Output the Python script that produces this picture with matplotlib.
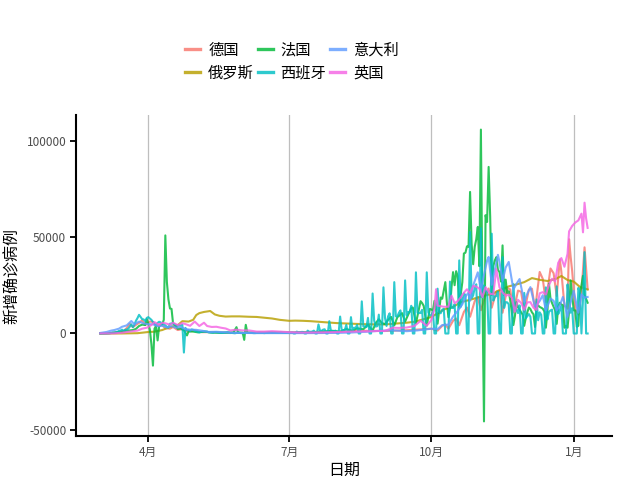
import numpy as np
import pandas as pd
import matplotlib
matplotlib.use("Agg")
import matplotlib.pyplot as plt

plt.rcParams['font.family'] = ['Noto Sans CJK SC', 'DejaVu Sans']

# ---------------- data ----------------
countries = ["德国", "俄罗斯", "法国", "西班牙", "意大利", "英国"]
colors = ["#F8766D", "#B79F00", "#00BA38", "#00BFC4", "#619CFF", "#F564E3"]

germany_dates = ["2020-03-01", "2020-03-05", "2020-03-08", "2020-03-11", "2020-03-14", "2020-03-16",
                 "2020-03-18", "2020-03-20", "2020-03-22", "2020-03-24", "2020-03-26", "2020-03-28",
                 "2020-03-30", "2020-04-02", "2020-04-04", "2020-04-06", "2020-04-09", "2020-04-12",
                 "2020-04-15", "2020-04-17", "2020-04-20", "2020-04-23", "2020-04-27", "2020-05-01",
                 "2020-05-05", "2020-05-10", "2020-05-20", "2020-06-01", "2020-06-18", "2020-07-01",
                 "2020-07-20", "2020-08-01", "2020-08-15", "2020-09-01", "2020-09-15", "2020-10-01",
                 "2020-10-05", "2020-10-08", "2020-10-10", "2020-10-12", "2020-10-15", "2020-10-17",
                 "2020-10-19", "2020-10-22", "2020-10-24", "2020-10-26", "2020-10-29", "2020-10-31",
                 "2020-11-02", "2020-11-05", "2020-11-07", "2020-11-09", "2020-11-12", "2020-11-14",
                 "2020-11-16", "2020-11-19", "2020-11-21", "2020-11-23", "2020-11-26", "2020-11-28",
                 "2020-11-30", "2020-12-03", "2020-12-05", "2020-12-07", "2020-12-10", "2020-12-12",
                 "2020-12-14", "2020-12-17", "2020-12-19", "2020-12-21", "2020-12-23", "2020-12-24",
                 "2020-12-26", "2020-12-28", "2020-12-29", "2020-12-30", "2020-12-31", "2021-01-02",
                 "2021-01-04", "2021-01-06", "2021-01-08", "2021-01-10"]
germany_vals = [50, 100, 250, 600, 900, 1200,
                2800, 5000, 3300, 4500, 5500, 6900,
                4400, 6200, 6000, 3700, 5000, 2800,
                2500, 3400, 1800, 2300, 1000, 1600,
                700, 700, 500, 300, 600, 400,
                300, 700, 1400, 1300, 1700, 2500,
                1500, 4000, 4700, 2500, 6600, 7800,
                4300, 11200, 13500, 8700, 16800, 19000,
                12100, 20000, 23400, 13400, 21900, 22500,
                10800, 23600, 22900, 10900, 22300, 21700,
                11200, 22800, 23300, 12300, 32000, 28400,
                16300, 33800, 31300, 19500, 38500, 32200,
                14500, 12900, 49000, 40000, 32500, 12700,
                9800, 21000, 44800, 23000]

russia_dates = ["2020-03-01", "2020-03-15", "2020-03-25", "2020-04-01", "2020-04-05", "2020-04-10",
                "2020-04-15", "2020-04-20", "2020-04-23", "2020-04-27", "2020-04-30", "2020-05-02",
                "2020-05-04", "2020-05-07", "2020-05-11", "2020-05-14", "2020-05-17", "2020-05-21",
                "2020-05-25", "2020-05-30", "2020-06-05", "2020-06-10", "2020-06-15", "2020-06-20",
                "2020-06-25", "2020-07-01", "2020-07-05", "2020-07-10", "2020-07-15", "2020-07-20",
                "2020-07-25", "2020-08-01", "2020-08-10", "2020-08-20", "2020-09-01", "2020-09-10",
                "2020-09-15", "2020-09-20", "2020-09-25", "2020-10-01", "2020-10-05", "2020-10-10",
                "2020-10-15", "2020-10-20", "2020-10-25", "2020-10-31", "2020-11-05", "2020-11-10",
                "2020-11-15", "2020-11-20", "2020-11-25", "2020-11-30", "2020-12-05", "2020-12-10",
                "2020-12-15", "2020-12-20", "2020-12-24", "2020-12-28", "2021-01-01", "2021-01-05",
                "2021-01-10"]
russia_vals = [0, 20, 160, 770, 950, 1800,
               3400, 4300, 6400, 6200, 7100, 9600,
               10600, 11200, 11700, 9900, 9200, 8800,
               8900, 8900, 8700, 8600, 8200, 7800,
               7100, 6600, 6700, 6600, 6400, 6100,
               5800, 5400, 5100, 4800, 4700, 5300,
               5600, 6100, 7200, 8600, 10500, 12800,
               13800, 16300, 17300, 18700, 19800, 20900,
               22800, 24500, 25500, 26700, 28800, 27900,
               27300, 28200, 29900, 27800, 27000, 24200,
               22900]

france_dates = ["2020-03-01", "2020-03-05", "2020-03-08", "2020-03-10", "2020-03-13", "2020-03-15",
                "2020-03-18", "2020-03-20", "2020-03-22", "2020-03-24", "2020-03-26", "2020-03-28",
                "2020-03-30", "2020-03-31", "2020-04-01", "2020-04-02", "2020-04-03", "2020-04-04",
                "2020-04-05", "2020-04-06", "2020-04-07", "2020-04-08", "2020-04-09", "2020-04-10",
                "2020-04-11", "2020-04-12", "2020-04-13", "2020-04-14", "2020-04-15", "2020-04-16",
                "2020-04-17", "2020-04-18", "2020-04-20", "2020-04-22", "2020-04-24", "2020-04-26",
                "2020-04-27", "2020-04-30", "2020-05-03", "2020-05-07", "2020-05-12", "2020-05-17",
                "2020-05-22", "2020-05-26", "2020-05-28", "2020-05-29", "2020-06-01", "2020-06-02",
                "2020-06-03", "2020-06-04", "2020-06-08", "2020-06-15", "2020-06-22", "2020-07-01",
                "2020-07-08", "2020-07-15", "2020-07-22", "2020-07-29", "2020-08-03", "2020-08-07",
                "2020-08-11", "2020-08-14", "2020-08-18", "2020-08-21", "2020-08-24", "2020-08-26",
                "2020-08-28", "2020-08-30", "2020-09-01", "2020-09-03", "2020-09-05", "2020-09-07",
                "2020-09-09", "2020-09-11", "2020-09-12", "2020-09-14", "2020-09-16", "2020-09-18",
                "2020-09-19", "2020-09-21", "2020-09-23", "2020-09-24", "2020-09-25", "2020-09-26",
                "2020-09-28", "2020-09-30", "2020-10-02", "2020-10-03", "2020-10-04", "2020-10-05",
                "2020-10-07", "2020-10-08", "2020-10-10", "2020-10-11", "2020-10-12", "2020-10-13",
                "2020-10-14", "2020-10-15", "2020-10-16", "2020-10-17", "2020-10-18", "2020-10-19",
                "2020-10-20", "2020-10-21", "2020-10-22", "2020-10-23", "2020-10-24", "2020-10-25",
                "2020-10-26", "2020-10-27", "2020-10-28", "2020-10-29", "2020-10-30", "2020-10-31",
                "2020-11-01", "2020-11-02", "2020-11-03", "2020-11-04", "2020-11-05", "2020-11-06",
                "2020-11-07", "2020-11-08", "2020-11-09", "2020-11-10", "2020-11-11", "2020-11-12",
                "2020-11-13", "2020-11-14", "2020-11-15", "2020-11-16", "2020-11-17", "2020-11-18",
                "2020-11-19", "2020-11-20", "2020-11-21", "2020-11-22", "2020-11-23", "2020-11-24",
                "2020-11-25", "2020-11-26", "2020-11-27", "2020-11-28", "2020-11-29", "2020-11-30",
                "2020-12-01", "2020-12-02", "2020-12-03", "2020-12-04", "2020-12-05", "2020-12-06",
                "2020-12-07", "2020-12-08", "2020-12-09", "2020-12-10", "2020-12-11", "2020-12-12",
                "2020-12-13", "2020-12-14", "2020-12-15", "2020-12-16", "2020-12-17", "2020-12-18",
                "2020-12-19", "2020-12-20", "2020-12-21", "2020-12-22", "2020-12-23", "2020-12-24",
                "2020-12-25", "2020-12-26", "2020-12-27", "2020-12-28", "2020-12-29", "2020-12-30",
                "2020-12-31", "2021-01-01", "2021-01-02", "2021-01-03", "2021-01-04", "2021-01-05",
                "2021-01-06", "2021-01-07", "2021-01-08", "2021-01-09", "2021-01-10"]
france_vals = [40, 140, 300, 370, 900, 1000,
               1400, 1600, 1800, 2400, 3900, 4600,
               4400, 7500, 4900, 2100, -5700, -16700,
               2500, 3900, -3600, 3800, 4300, 4800,
               7100, 51000, 26700, 17700, 13000, 12800,
               5200, 4800, 2400, 2600, 1600, -1000,
               1100, 1000, 600, 1000, 500, 400,
               400, 500, 3300, 500, 400, -3300,
               4500, 500, 400, 400, 500, 500,
               600, 700, 1000, 1400, 1000, 2300,
               1400, 2700, 2200, 4600, 1500, 5400,
               7400, 5400, 4900, 7100, 8600, 4200,
               8500, 9800, 10600, 6200, 9800, 13200,
               13500, 5300, 13000, 16800, 15800, 14400,
               4100, 12800, 12100, 17000, 12600, 5100,
               18700, 18100, 26700, 16100, 8500, 12900,
               24100, 31900, 25100, 32400, 29800, 13200,
               20500, 26700, 41600, 42000, 45300, 45000,
               73600, 46700, 36000, 45000, 49000, 55400,
               35000, 106000, 20000, -45700, 61500, 58000,
               86600, 60700, 20000, 35000, 38000, 39700,
               33000, 32000, 27000, 45800, 20000, 28000,
               21000, 22000, 17000, 11000, 4400, 9100,
               16300, 13600, 12500, 11000, 9800, 4000,
               8000, 11000, 13500, 12700, 11000, 10000,
               3400, 13700, 14600, 13800, 13400, 12900,
               11500, 3000, 11500, 25900, 18000, 15800,
               13900, 12000, 5000, 14000, 16000, 15000,
               14800, 3000, 4000, 3000, 11400, 27600,
               20000, 12000, 12000, 3500, 4000, 20000,
               25000, 30000, 20000, 18000, 16000]

# Spain: daily values, first Sunday 2020-03-01, then Monday..Sunday weeks
spain_start = "2020-03-01"
spain_first = [30]
spain_weeks = [
    [40, 50, 60, 90, 100, 100, 300],
    [550, 500, 600, 800, 1300, 1500, 2000],
    [1400, 1900, 2000, 2500, 3500, 4800, 3300],
    [4500, 6600, 8000, 9700, 8600, 7500, 7300],
    [6400, 8100, 8500, 7800, 7100, 6000, 5000],
    [4300, 5500, 6100, 5800, 4600, 4800, 4200],
    [3500, 3000, 5100, 5200, 5300, 4500, 4200],
    [4000, 4200, 4200, 4600, -9900, 2900, 1700],
    [1800, 1300, 2100, 1900, 1400, 1100, 900],
    [500, 850, 1000, 1000, 1000, 1000, 600],
    [500, 500, 400, 700, 600, 500, 400],
    [300, 300, 400, 500, 700, 500, 250],
    [300, 200, 100, 300, 400, 300, 200],
    [200, 300, 300, 300, 300, 300, 300],
    [200, 200, 300, 400, 500, 300, 300],
    [200, 300, 300, 600, 500, 400, 300],
    [400, 300, 300, 400, 500, 300, 300],
    [300, 500, 300, 400, 500, 0, 0],
    [1000, 500, 600, 800, 800, 0, 0],
    [1500, 900, 900, 1000, 1500, 0, 0],
    [4700, 1400, 1400, 2000, 2200, 0, 0],
    [6400, 1500, 1200, 1200, 1500, 0, 0],
    [8800, 1800, 1800, 1700, 4500, 0, 0],
    [8500, 1500, 3000, 2900, 4500, 0, 0],
    [16700, 3600, 3700, 3300, 8100, 0, 0],
    [20800, 6700, 3600, 3800, 9800, 0, 0],
    [24000, 8100, 3900, 8900, 10500, 0, 0],
    [26700, 8900, 8900, 10800, 12000, 0, 0],
    [27600, 9400, 11100, 11300, 14400, 0, 0],
    [31800, 10800, 10600, 10700, 12300, 0, 0],
    [31800, 11000, 9400, 9400, 11300, 0, 0],
    [23300, 11000, 10500, 12400, 12800, 0, 0],
    [0, 27000, 13300, 13300, 15200, 0, 0],
    [38000, 13900, 16900, 20900, 19900, 0, 0],
    [52800, 18400, 19800, 23600, 25600, 0, 0],
    [54700, 18700, 25000, 22000, 22000, 0, 0],
    [51900, 17100, 19100, 19500, 21800, 0, 0],
    [39700, 13300, 16300, 16200, 15200, 0, 0],
    [25700, 12200, 12500, 10600, 14600, 0, 0],
    [21100, 7900, 9000, 10100, 8700, 0, 0],
    [0, 17700, 6900, 11000, 9700, 0, 0],
    [24000, 7300, 11200, 12000, 12400, 0, 0],
    [24500, 10100, 12300, 14200, 0, 0, 0],
    [25500, 17200, 10800, 13200, 0, 0, 0],
    [23700, 21000, 0, 18000, 42300, 0, 0],
]

italy_dates = ["2020-03-01", "2020-03-05", "2020-03-08", "2020-03-10", "2020-03-13", "2020-03-15",
               "2020-03-18", "2020-03-21", "2020-03-23", "2020-03-26", "2020-03-29", "2020-04-01",
               "2020-04-04", "2020-04-07", "2020-04-10", "2020-04-13", "2020-04-16", "2020-04-19",
               "2020-04-22", "2020-04-25", "2020-04-28", "2020-05-02", "2020-05-06", "2020-05-10",
               "2020-05-15", "2020-05-20", "2020-05-25", "2020-06-01", "2020-06-10", "2020-07-01",
               "2020-07-15", "2020-08-01", "2020-08-10", "2020-08-20", "2020-08-28", "2020-09-05",
               "2020-09-15", "2020-09-22", "2020-10-01", "2020-10-05", "2020-10-08", "2020-10-12",
               "2020-10-15", "2020-10-18", "2020-10-21", "2020-10-23", "2020-10-25", "2020-10-26",
               "2020-10-28", "2020-10-31", "2020-11-02", "2020-11-04", "2020-11-06", "2020-11-07",
               "2020-11-09", "2020-11-11", "2020-11-13", "2020-11-14", "2020-11-16", "2020-11-18",
               "2020-11-20", "2020-11-23", "2020-11-25", "2020-11-27", "2020-11-30", "2020-12-02",
               "2020-12-04", "2020-12-07", "2020-12-10", "2020-12-12", "2020-12-14", "2020-12-17",
               "2020-12-19", "2020-12-21", "2020-12-23", "2020-12-25", "2020-12-28", "2020-12-30",
               "2021-01-01", "2021-01-03", "2021-01-04", "2021-01-06", "2021-01-08", "2021-01-10"]
italy_vals = [300, 800, 1500, 1800, 2500, 3500,
              4200, 6500, 4800, 6200, 5200, 4800,
              4800, 3800, 4000, 3100, 3800, 3000,
              3400, 2300, 2000, 1900, 1400, 800,
              900, 650, 400, 300, 200, 200,
              200, 300, 500, 900, 1400, 1700,
              1200, 1600, 2500, 2300, 4400, 4600,
              8800, 11700, 15200, 19100, 21300, 17000,
              25000, 31800, 22300, 30500, 37800, 39800,
              25300, 32900, 40900, 37200, 27300, 34300,
              37200, 22900, 25800, 28300, 16400, 20700,
              24100, 13700, 16900, 19900, 12000, 18200,
              17000, 12000, 14500, 19000, 8600, 16200,
              22200, 14200, 10800, 20300, 18600, 19000]

uk_dates = ["2020-03-01", "2020-03-10", "2020-03-15", "2020-03-20", "2020-03-25", "2020-03-28",
            "2020-03-31", "2020-04-03", "2020-04-05", "2020-04-08", "2020-04-10", "2020-04-12",
            "2020-04-15", "2020-04-17", "2020-04-20", "2020-04-23", "2020-04-25", "2020-04-28",
            "2020-05-01", "2020-05-04", "2020-05-07", "2020-05-09", "2020-05-12", "2020-05-15",
            "2020-05-18", "2020-05-21", "2020-05-24", "2020-05-28", "2020-06-01", "2020-06-05",
            "2020-06-10", "2020-06-15", "2020-06-20", "2020-06-25", "2020-07-01", "2020-07-10",
            "2020-07-20", "2020-08-01", "2020-08-10", "2020-08-20", "2020-08-28", "2020-09-01",
            "2020-09-06", "2020-09-10", "2020-09-15", "2020-09-20", "2020-09-24", "2020-09-28",
            "2020-10-01", "2020-10-03", "2020-10-04", "2020-10-05", "2020-10-07", "2020-10-09",
            "2020-10-12", "2020-10-14", "2020-10-16", "2020-10-18", "2020-10-20", "2020-10-22",
            "2020-10-24", "2020-10-26", "2020-10-28", "2020-10-30", "2020-11-01", "2020-11-03",
            "2020-11-05", "2020-11-08", "2020-11-10", "2020-11-12", "2020-11-14", "2020-11-16",
            "2020-11-18", "2020-11-20", "2020-11-22", "2020-11-24", "2020-11-26", "2020-11-28",
            "2020-11-30", "2020-12-02", "2020-12-04", "2020-12-06", "2020-12-08", "2020-12-10",
            "2020-12-12", "2020-12-14", "2020-12-16", "2020-12-18", "2020-12-20", "2020-12-22",
            "2020-12-24", "2020-12-26", "2020-12-28", "2020-12-29", "2020-12-31", "2021-01-02",
            "2021-01-04", "2021-01-06", "2021-01-07", "2021-01-08", "2021-01-09", "2021-01-10"]
uk_vals = [10, 80, 400, 1000, 1500, 2500,
           3000, 4400, 5900, 4500, 5600, 5300,
           4600, 5600, 4400, 5400, 4900, 4000,
           6200, 3900, 5600, 3900, 3400, 3500,
           3000, 2600, 1600, 2000, 1600, 1600,
           1000, 1000, 1200, 1000, 700, 500,
           600, 750, 1000, 1100, 1300, 1300,
           3000, 2900, 3100, 3900, 6600, 4000,
           7000, 12900, 23000, 14500, 14200, 13900,
           13900, 19700, 15700, 16900, 18800, 21200,
           23000, 20900, 24700, 24400, 23300, 18900,
           24100, 20600, 20400, 33500, 24000, 21400,
           19600, 20200, 18700, 11300, 17500, 15900,
           12300, 16200, 16300, 13400, 12300, 20900,
           21500, 20300, 25200, 28500, 27100, 36800,
           39200, 34700, 41400, 53100, 55900, 57700,
           58800, 62300, 52600, 68000, 59900, 54900]

# ---------------- assemble ----------------
spain_vals = spain_first + [v for wk in spain_weeks for v in wk]
spain_dates = pd.date_range(spain_start, periods=len(spain_vals), freq="D")

series = {
    "德国": (pd.to_datetime(germany_dates), germany_vals),
    "俄罗斯": (pd.to_datetime(russia_dates), russia_vals),
    "法国": (pd.to_datetime(france_dates), france_vals),
    "西班牙": (spain_dates, spain_vals),
    "意大利": (pd.to_datetime(italy_dates), italy_vals),
    "英国": (pd.to_datetime(uk_dates), uk_vals),
}

month_ticks = pd.to_datetime(["2020-04-01", "2020-07-01", "2020-10-01", "2021-01-01"])
month_labels = ["4月", "7月", "10月", "1月"]
y_ticks = [-50000, 0, 50000, 100000]

# ---------------- draw ----------------
fig = plt.figure(figsize=(6.4, 4.8), dpi=100)
ax = fig.add_axes([76 / 640, 1 - 436 / 480, (612 - 76) / 640, (436 - 115) / 480])

for name, col in zip(countries, colors):
    d, v = series[name]
    ax.plot(d, v, color=col, lw=1.5, alpha=0.82)

ax.set_xticks(month_ticks)
ax.set_xticklabels(month_labels)
ax.set_yticks(y_ticks)
ax.set_yticklabels([str(t) for t in y_ticks])
ax.margins(x=0.05, y=0.05)

ax.grid(axis="x", color="#BEBEBE", lw=0.9)
ax.set_axisbelow(True)
for s in ["top", "right"]:
    ax.spines[s].set_visible(False)
for s in ["left", "bottom"]:
    ax.spines[s].set_linewidth(1.5)
    ax.spines[s].set_color("black")
ax.tick_params(axis="both", length=4, width=1.3, color="black",
               labelsize=8.5, labelcolor="#4D4D4D", pad=3)

ax.set_xlabel("日期", fontsize=11.5, color="black", labelpad=2)
ax.set_ylabel("新增确诊病例", fontsize=11.5, color="black", labelpad=4)

leg_handles = [plt.Line2D([], [], color=c, lw=2.4, alpha=0.82) for c in colors]
fig.legend(leg_handles, countries, loc="center", bbox_to_anchor=(292 / 640, 1 - 61.5 / 480),
           ncol=3, frameon=False, fontsize=11, handlelength=1.0, handletextpad=0.5,
           columnspacing=0.25, labelspacing=0.35)

fig.savefig("out.png", dpi=100)
